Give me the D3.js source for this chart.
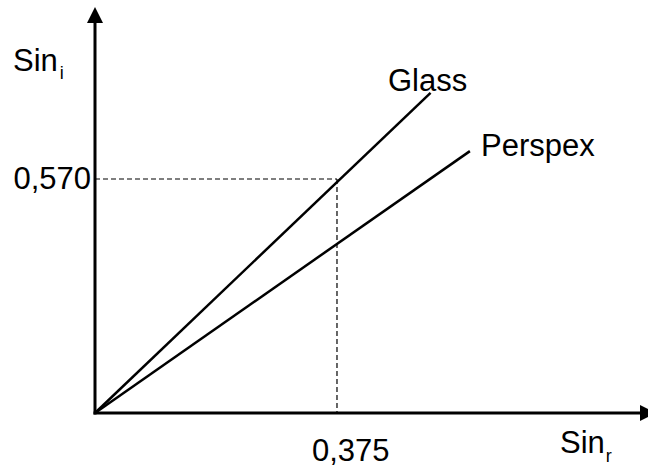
<!DOCTYPE html>
<html>
<head>
<meta charset="utf-8">
<script src="https://cdn.jsdelivr.net/npm/d3@7"></script>
<style>
  body { margin: 0; background: #fff; }
  text { font-family: "Liberation Sans", Arial, sans-serif; fill: #000; }
</style>
</head>
<body>
<script>
// lines from origin: [sin r, sin i] at the end of each line
var materials = ["Glass", "Perspex"]
var end_sinr = [0.52, 0.581]
var end_sini = [0.78, 0.638]
// the marked reading
var mark_sinr = 0.375
var mark_sini = 0.570
var mark_labels = ["0,375", "0,570"]
var axis_labels = ["Sin", "i", "Sin", "r"]

var width = 648, height = 468

var svg = d3.select("body").append("svg")
    .attr("width", width)
    .attr("height", height)

var x = d3.scaleLinear().domain([0, 1]).range([95, 95 + 645.3])
var y = d3.scaleLinear().domain([0, 1]).range([413, 413 - 410.5])

// dashed guides
svg.append("line")
    .attr("x1", x(0)).attr("x2", x(mark_sinr))
    .attr("y1", y(mark_sini)).attr("y2", y(mark_sini))
    .attr("stroke", "#000").attr("stroke-width", 1.2)
    .attr("stroke-dasharray", "5,3")
svg.append("line")
    .attr("x1", x(mark_sinr)).attr("x2", x(mark_sinr))
    .attr("y1", y(mark_sini)).attr("y2", y(0))
    .attr("stroke", "#000").attr("stroke-width", 1.2)
    .attr("stroke-dasharray", "5,3")

// material lines
var line = d3.line().x(d => x(d[0])).y(d => y(d[1]))
materials.forEach(function (m, i) {
    svg.append("path")
        .attr("d", line([[0, 0], [end_sinr[i], end_sini[i]]]))
        .attr("stroke", "#000")
        .attr("stroke-width", 2.5)
        .attr("fill", "none")
})

// axes
svg.append("line")
    .attr("x1", x(0)).attr("x2", x(0))
    .attr("y1", y(0) + 1.5).attr("y2", 20)
    .attr("stroke", "#000").attr("stroke-width", 3)
svg.append("line")
    .attr("x1", x(0) - 1.5).attr("x2", 642)
    .attr("y1", y(0)).attr("y2", y(0))
    .attr("stroke", "#000").attr("stroke-width", 3)

// arrow heads
svg.append("path")
    .attr("d", "M" + x(0) + ",7 L" + (x(0) - 8) + ",23 L" + (x(0) + 8) + ",23 Z")
    .attr("fill", "#000")
svg.append("path")
    .attr("d", "M656," + y(0) + " L640," + (y(0) - 8) + " L640," + (y(0) + 8) + " Z")
    .attr("fill", "#000")

// tick labels
svg.append("text")
    .attr("x", 312).attr("y", 461)
    .style("font-size", "31px")
    .text(mark_labels[0])
svg.append("text")
    .attr("x", 91).attr("y", 189)
    .attr("text-anchor", "end")
    .style("font-size", "31px")
    .text(mark_labels[1])

// axis titles
var ti = svg.append("text").attr("x", 13).attr("y", 71).style("font-size", "31px")
ti.append("tspan").text(axis_labels[0])
ti.append("tspan").attr("dy", 8).attr("dx", 2).style("font-size", "18px").text(axis_labels[1])

var tr = svg.append("text").attr("x", 560).attr("y", 453).style("font-size", "31px")
tr.append("tspan").text(axis_labels[2])
tr.append("tspan").attr("dy", 9).attr("dx", 1).style("font-size", "18px").text(axis_labels[3])

// line labels
svg.append("text").attr("x", 388).attr("y", 91).style("font-size", "31px").text(materials[0])
svg.append("text").attr("x", 481).attr("y", 156).style("font-size", "31px").text(materials[1])
</script>
</body>
</html>
